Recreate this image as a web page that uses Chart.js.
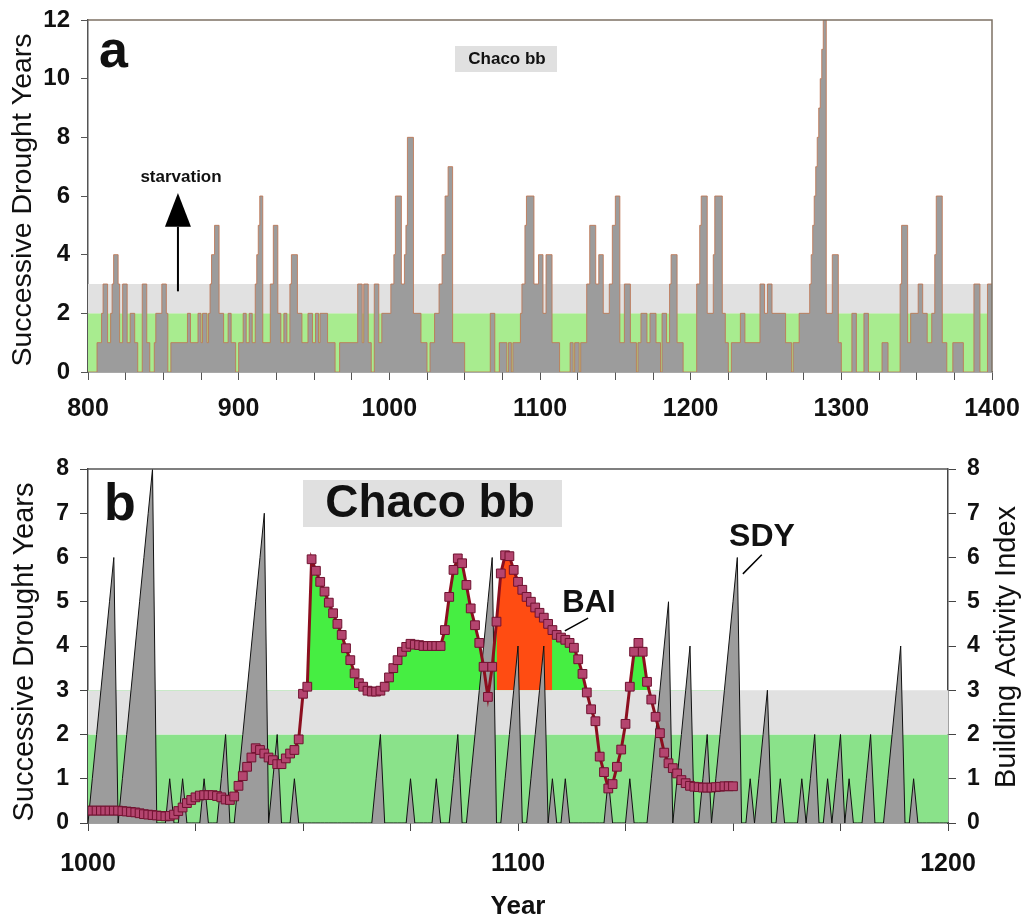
<!DOCTYPE html>
<html>
<head>
<meta charset="utf-8">
<script src="https://cdn.jsdelivr.net/npm/chart.js@4.4.1/dist/chart.umd.min.js"></script>
<style>
  html, body { margin: 0; padding: 0; background: #fff; }
  #wrap { position: relative; width: 1024px; height: 919px; }
  canvas { position: absolute; left: 0; }
  #chartA { top: 0; }
  #chartB { top: 430px; }
</style>
</head>
<body>
<div id="wrap">
  <canvas id="chartA" width="1024" height="430"></canvas>
  <canvas id="chartB" width="1024" height="489"></canvas>
</div>
<script>
// ---- panel a : successive drought years, change points (value holds until next year listed)
const aYears = [
  800, 806, 809, 810, 813, 815, 816, 817, 820, 821, 823, 826, 828, 831, 833, 836, 839, 841, 844, 845,
  849, 852, 853, 855, 866, 868, 873, 875, 876, 879, 880, 881, 882, 884, 887, 890, 893, 895, 898,
  900, 903, 905, 907, 909, 911, 912, 913, 914, 916, 921, 923, 926, 928, 930, 932, 934, 935, 939, 942,
  946, 949, 951, 953, 954, 959, 964, 967, 979, 982, 983, 986, 988, 990, 993, 995,
  1001, 1003, 1004, 1008, 1010, 1011, 1012, 1016, 1021, 1025, 1027, 1030, 1033, 1035, 1037,
  1039, 1042, 1050, 1067, 1070, 1073, 1078, 1079, 1081, 1082, 1087, 1088, 1090, 1091, 1096, 1099,
  1102, 1104, 1108, 1113, 1120, 1122, 1123, 1126, 1127, 1131, 1133, 1137, 1139, 1142, 1146,
  1148, 1150, 1153, 1156, 1160, 1164, 1165, 1167, 1171, 1173, 1177, 1180, 1181, 1184, 1186, 1187, 1191, 1195,
  1204, 1206, 1207, 1211, 1215, 1216, 1221, 1223, 1225, 1227, 1233, 1236, 1246, 1249, 1251,
  1254, 1263, 1267, 1268, 1272, 1279, 1280, 1281, 1282, 1283, 1284, 1285, 1286, 1287, 1288, 1290, 1294, 1298,
  1300, 1307, 1310, 1315, 1318, 1327, 1331, 1339, 1340, 1344, 1346, 1351, 1354, 1357, 1360,
  1362, 1363, 1367, 1370, 1374, 1381, 1388, 1392, 1397, 1400
];
const aValues = [
  0, 1, 2, 3, 1, 2, 3, 4, 3, 1, 3, 1, 2, 1, 0, 3, 1, 0, 1, 2,
  3, 2, 0, 1, 2, 1, 2, 1, 2, 1, 2, 3, 4, 5, 2, 1, 2, 1, 0,
  1, 2, 1, 2, 1, 3, 4, 5, 6, 1, 3, 5, 2, 1, 2, 1, 3, 4, 2, 1,
  2, 1, 2, 1, 2, 1, 0, 1, 3, 1, 3, 1, 0, 3, 1, 2,
  3, 4, 6, 3, 4, 5, 8, 2, 1, 0, 1, 2, 3, 4, 6,
  7, 1, 0, 2, 0, 1, 0, 1, 0, 1, 2, 3, 5, 6, 3, 4,
  2, 4, 1, 0, 1, 0, 1, 0, 1, 3, 5, 3, 4, 2, 3,
  5, 6, 1, 3, 1, 0, 1, 2, 1, 2, 1, 0, 2, 1, 3, 4, 1, 0,
  3, 5, 6, 2, 4, 6, 2, 1, 0, 1, 2, 1, 3, 2, 3,
  2, 1, 0, 1, 2, 3, 4, 5, 6, 7, 8, 9, 10, 11, 12, 2, 4, 1,
  0, 2, 0, 2, 0, 1, 0, 3, 5, 1, 2, 3, 2, 1, 2,
  4, 6, 1, 0, 1, 0, 3, 0, 3, 3
];

// ---- panel b : annual values from 1000
const bStartYear = 1000;
const sdyB = [
  0, 1, 2, 3, 4, 5, 6, 0, 1, 2,
  3, 4, 5, 6, 7, 8, 0, 0, 0, 1,
  0, 0, 1, 0, 0, 0, 0, 1, 0, 0,
  0, 1, 2, 0, 0, 1, 2, 3, 4, 5,
  6, 7, 0, 1, 2, 0, 0, 0, 1, 0,
  0, 0, 0, 0, 0, 0, 0, 0, 0, 0,
  0, 0, 0, 0, 0, 0, 0, 1, 2, 0,
  0, 0, 0, 0, 0, 1, 0, 0, 0, 0,
  0, 1, 0, 0, 0, 1, 2, 0, 0, 1,
  2, 3, 4, 5, 6, 0, 0, 1, 2, 3,
  4, 0, 0, 1, 2, 3, 4, 0, 1, 0,
  0, 1, 0, 0, 0, 0, 0, 0, 0, 0,
  0, 1, 0, 0, 0, 0, 1, 0, 0, 0,
  0, 1, 2, 3, 4, 5, 0, 1, 2, 3,
  4, 0, 0, 1, 2, 0, 1, 2, 3, 4,
  5, 6, 0, 0, 1, 0, 1, 2, 3, 0,
  0, 1, 0, 0, 0, 0, 1, 0, 1, 2,
  0, 0, 1, 0, 1, 2, 0, 1, 0, 0,
  0, 1, 2, 0, 0, 0, 1, 2, 3, 4,
  0, 0, 1, 0, 0, 0, 0, 0, 0, 0,
  0
];
const baiB = [
  0.28, 0.28, 0.28, 0.28, 0.28, 0.28, 0.28, 0.28, 0.27, 0.26,
  0.25, 0.24, 0.22, 0.2, 0.19, 0.18, 0.17, 0.16, 0.15, 0.16,
  0.19, 0.27, 0.35, 0.45, 0.52, 0.58, 0.62, 0.63, 0.63, 0.63,
  0.61, 0.58, 0.53, 0.52, 0.6, 0.84, 1.06, 1.27, 1.48, 1.69,
  1.65, 1.57, 1.48, 1.42, 1.33, 1.33, 1.46, 1.57, 1.65, 1.89,
  2.92, 3.08, 5.96, 5.7, 5.45, 5.23, 4.98, 4.74, 4.5, 4.25,
  3.95, 3.68, 3.38, 3.16, 3.08, 2.99, 2.97, 2.97, 2.99, 3.08,
  3.29, 3.5, 3.68, 3.87, 3.98, 4.05, 4.03, 4.02, 4.0, 4.0,
  4.0, 4.0, 4.0, 4.36, 5.11, 5.72, 5.98, 5.87, 5.38, 4.85,
  4.47, 4.07, 3.53, 2.85, 3.53, 4.55, 5.64, 6.05, 6.03, 5.72,
  5.45, 5.27, 5.11, 5.0, 4.87, 4.75, 4.64, 4.5, 4.36, 4.25,
  4.19, 4.14, 4.07, 3.96, 3.7, 3.37, 2.95, 2.57, 2.3, 1.5,
  1.15, 0.78, 0.88, 1.27, 1.66, 2.24, 3.08, 3.87, 4.07, 3.87,
  3.19, 2.79, 2.4, 2.03, 1.59, 1.35, 1.24, 1.12, 0.97, 0.9,
  0.84, 0.82, 0.81, 0.8, 0.8, 0.8, 0.81, 0.82, 0.83, 0.83,
  0.83
];
const orangeYears = [1095, 1108];   // span of the red-orange BAI fill
const bandLimits = [2, 3];          // green band top, grey band top
const baiThreshold = 3;

const FONT = '"Liberation Sans", Arial, Helvetica, sans-serif';
const INK = '#111';
Chart.defaults.font.family = FONT;
Chart.defaults.color = INK;

const bandSets = (x0, x1, green) => [
  {
    label: 'green band', data: [{ x: x0, y: bandLimits[0] }, { x: x1, y: bandLimits[0] }],
    borderColor: 'transparent', borderWidth: 0, pointRadius: 0,
    fill: 'origin', backgroundColor: green, order: 20,
  },
  {
    label: 'grey band', data: [{ x: x0, y: bandLimits[1] }, { x: x1, y: bandLimits[1] }],
    borderColor: 'transparent', borderWidth: 0, pointRadius: 0,
    fill: { target: { value: bandLimits[0] } }, backgroundColor: '#e1e1e1', order: 19,
  },
];

// fixed axis boxes so the plot areas land where the figure has them
const fixX = (h) => (s) => { s.height = h; s.paddingLeft = 0; s.paddingRight = 0; };
const fixY = (w) => (s) => { s.width = w; s.paddingTop = 0; s.paddingBottom = 0; };

const drawTitle = (ctx, text, x, y, font) => {
  ctx.save();
  ctx.translate(x, y);
  ctx.rotate(-Math.PI / 2);
  ctx.font = font;
  ctx.fillStyle = INK;
  ctx.textAlign = 'center';
  ctx.textBaseline = 'middle';
  ctx.fillText(text, 0, 0);
  ctx.restore();
};

// =============== panel a ===============
const panelAText = {
  id: 'panelAText',
  afterDraw(chart) {
    const { ctx, chartArea: ca, scales: { x, y } } = chart;
    ctx.save();
    ctx.strokeStyle = '#7d7264';
    ctx.lineWidth = 1.5;
    ctx.beginPath();
    ctx.moveTo(ca.left, ca.top);
    ctx.lineTo(ca.right, ca.top);
    ctx.lineTo(ca.right, ca.bottom);
    ctx.stroke();

    ctx.fillStyle = INK;
    ctx.font = `bold 52px ${FONT}`;
    ctx.textAlign = 'left';
    ctx.textBaseline = 'alphabetic';
    ctx.fillText('a', 99, 67);

    ctx.fillStyle = '#e0e0e0';
    ctx.fillRect(455, 46, 102, 26);
    ctx.fillStyle = INK;
    ctx.font = `bold 17px ${FONT}`;
    ctx.textAlign = 'center';
    ctx.textBaseline = 'middle';
    ctx.fillText('Chaco bb', 507, 59);
    ctx.fillText('starvation', 181, 177);

    // arrow pointing up from the grey band
    const ax = x.getPixelForValue(859.7);
    const yBase = y.getPixelForValue(2.75);
    const yNeck = y.getPixelForValue(4.95);
    const yTip = y.getPixelForValue(6.1);
    ctx.strokeStyle = '#000';
    ctx.lineWidth = 2;
    ctx.beginPath();
    ctx.moveTo(ax, yBase);
    ctx.lineTo(ax, yNeck);
    ctx.stroke();
    ctx.fillStyle = '#000';
    ctx.beginPath();
    ctx.moveTo(ax, yTip);
    ctx.lineTo(ax - 13, yNeck);
    ctx.lineTo(ax + 13, yNeck);
    ctx.closePath();
    ctx.fill();
    ctx.restore();

    drawTitle(ctx, 'Successive Drought Years', 23, 200, `28.5px ${FONT}`);
  },
};

new Chart(document.getElementById('chartA'), {
  type: 'line',
  data: {
    datasets: [
      ...bandSets(800, 1400, '#a8ec8f'),
      {
        label: 'Successive drought years',
        data: aYears.map((yr, i) => ({ x: yr, y: aValues[i] })),
        stepped: 'before',
        borderColor: 'rgba(190,118,84,0.85)',
        borderWidth: 1,
        backgroundColor: '#9c9c9c',
        fill: 'origin',
        pointRadius: 0,
        order: 1,
      },
    ],
  },
  plugins: [panelAText],
  options: {
    responsive: false,
    animation: false,
    layout: { padding: { top: 20, right: 32, bottom: 0, left: 0 } },
    plugins: { legend: { display: false }, tooltip: { enabled: false } },
    scales: {
      x: {
        type: 'linear', min: 800, max: 1400,
        afterFit: fixX(58),
        border: { display: true, color: '#555', width: 1.5 },
        grid: { drawOnChartArea: false, drawTicks: true, tickLength: 8, color: '#555' },
        ticks: {
          stepSize: 25, autoSkip: false, maxRotation: 0, padding: 14, color: INK,
          font: { size: 25, weight: 'bold' },
          callback: (v) => (v % 100 === 0 ? String(v) : ''),
        },
      },
      y: {
        min: 0, max: 12,
        afterFit: fixY(88),
        border: { display: true, color: '#555', width: 1.5 },
        grid: { drawOnChartArea: false, drawTicks: true, tickLength: 7, color: '#555' },
        ticks: { stepSize: 2, padding: 11, color: INK, font: { size: 24, weight: 'bold' } },
      },
    },
  },
});

// =============== panel b ===============
const sdyPoints = sdyB.map((v, i) => ({ x: bStartYear + i, y: v }));
const baiPoints = baiB.map((v, i) => ({ x: bStartYear + i, y: v }));
const baiOrange = baiPoints.filter((p) => p.x >= orangeYears[0] && p.x <= orangeYears[1]);

const panelBText = {
  id: 'panelBText',
  afterDraw(chart) {
    const { ctx, chartArea: ca, scales: { x, y } } = chart;
    ctx.save();
    ctx.strokeStyle = '#555';
    ctx.lineWidth = 1.5;
    ctx.beginPath();
    ctx.moveTo(ca.left, ca.top);
    ctx.lineTo(ca.right, ca.top);
    ctx.stroke();

    ctx.fillStyle = INK;
    ctx.font = `bold 52px ${FONT}`;
    ctx.textAlign = 'left';
    ctx.textBaseline = 'alphabetic';
    ctx.fillText('b', 104, 90);

    ctx.fillStyle = '#e0e0e0';
    ctx.fillRect(303, 50, 259, 47);
    ctx.fillStyle = INK;
    ctx.font = `bold 46px ${FONT}`;
    ctx.textAlign = 'center';
    ctx.textBaseline = 'middle';
    ctx.fillText('Chaco bb', 430, 74);

    ctx.font = `bold 31px ${FONT}`;
    ctx.fillText('BAI', 589, 173);
    ctx.font = `bold 32px ${FONT}`;
    ctx.fillText('SDY', 762, 107);

    ctx.strokeStyle = '#000';
    ctx.lineWidth = 1.5;
    ctx.beginPath();
    ctx.moveTo(x.getPixelForValue(1110.9), y.getPixelForValue(4.34));
    ctx.lineTo(x.getPixelForValue(1116.3), y.getPixelForValue(4.63));
    ctx.moveTo(x.getPixelForValue(1152.3), y.getPixelForValue(5.63));
    ctx.lineTo(x.getPixelForValue(1156.7), y.getPixelForValue(6.06));
    ctx.stroke();

    ctx.font = `bold 26px ${FONT}`;
    ctx.fillText('Year', 518, 477);
    ctx.restore();

    drawTitle(ctx, 'Successive Drought Years', 25, 222, `29px ${FONT}`);
    drawTitle(ctx, 'Building Activity Index', 1007, 217, `29px ${FONT}`);
  },
};

const yAxisB = (pos, width) => ({
  position: pos, min: 0, max: 8,
  afterFit: fixY(width),
  border: { display: true, color: '#444', width: 1.5 },
  grid: { drawOnChartArea: false, drawTicks: true, tickLength: 8, color: '#444' },
  ticks: { stepSize: 1, padding: 11, color: INK, font: { size: 23, weight: 'bold' } },
});

new Chart(document.getElementById('chartB'), {
  type: 'line',
  data: {
    datasets: [
      ...bandSets(1000, 1200, '#8ae28a'),
      {
        label: 'BAI fill', data: baiPoints, yAxisID: 'y2',
        borderColor: 'transparent', borderWidth: 0, pointRadius: 0,
        fill: { target: { value: baiThreshold }, above: '#46ee42', below: 'rgba(0,0,0,0)' },
        order: 6,
      },
      {
        label: 'BAI peak fill', data: baiOrange, yAxisID: 'y2',
        borderColor: 'transparent', borderWidth: 0, pointRadius: 0,
        fill: { target: { value: baiThreshold }, above: '#ff4c12', below: 'rgba(0,0,0,0)' },
        order: 5,
      },
      {
        label: 'SDY', data: sdyPoints, yAxisID: 'y',
        borderColor: '#111', borderWidth: 1, pointRadius: 0,
        backgroundColor: '#9c9c9c', fill: 'origin',
        order: 2,
      },
      {
        label: 'BAI', data: baiPoints, yAxisID: 'y2',
        borderColor: '#8c0f1f', borderWidth: 3, fill: false,
        pointStyle: 'rect', pointRadius: 6.2,
        pointBackgroundColor: '#b4456f', pointBorderColor: '#701230', pointBorderWidth: 1,
        order: 0,
      },
    ],
  },
  plugins: [panelBText],
  options: {
    responsive: false,
    animation: false,
    layout: { padding: { top: 39, right: 0, bottom: 0, left: 0 } },
    plugins: { legend: { display: false }, tooltip: { enabled: false } },
    scales: {
      x: {
        type: 'linear', min: 1000, max: 1200,
        afterFit: fixX(96),
        border: { display: true, color: '#444', width: 1.5 },
        grid: { drawOnChartArea: false, drawTicks: true, tickLength: 8, color: '#444' },
        ticks: {
          stepSize: 25, autoSkip: false, maxRotation: 0, padding: 18, color: INK,
          font: { size: 25, weight: 'bold' },
          callback: (v) => (v % 100 === 0 ? String(v) : ''),
        },
      },
      y: yAxisB('left', 88),
      y2: yAxisB('right', 76),
    },
  },
});
</script>
</body>
</html>
